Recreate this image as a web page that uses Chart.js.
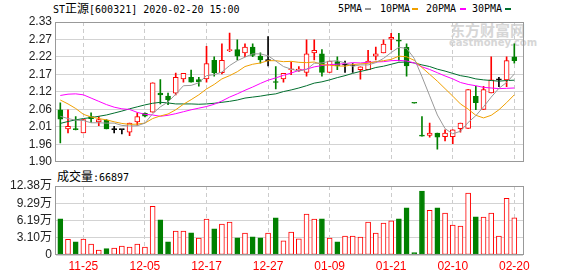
<!DOCTYPE html>
<html>
<head>
<meta charset="utf-8">
<script src="https://cdn.jsdelivr.net/npm/chart.js@4.4.1/dist/chart.umd.min.js"></script>
<style>
  body { margin: 0; background: #fff; }
  #wrap { position: relative; width: 578px; height: 276px; overflow: hidden; }
  .t { position: absolute; font-family: "DejaVu Sans Mono", monospace; font-size: 10px; line-height: 12px; white-space: nowrap; color: #000; }
  .cjk { font-family: "Noto Sans CJK SC"; font-size: 12px; }
  .dash { position: absolute; width: 6px; height: 2px; }
  .wm { position: absolute; color: #d6d6d6; font-weight: bold; white-space: nowrap; }
  canvas { position: absolute; left: 0; }
</style>
</head>
<body>
<div id="wrap">
  <div class="wm" style="left:450px;top:21px;font-family:'Noto Sans CJK SC';font-size:15px;line-height:18px;">东方财富网</div>
  <div class="wm" style="left:449px;top:37px;font-family:'DejaVu Sans';font-size:10px;line-height:12px;">eastmoney.com</div>

  <div class="t" style="left:53px;top:2px;">ST<span class="cjk">正源</span>[600321] 2020-02-20 15:00</div>

  <div class="t" style="left:338px;top:3px;">5PMA</div>
  <div class="dash" style="left:365px;top:8px;background:#999999;"></div>
  <div class="t" style="left:380px;top:3px;">10PMA</div>
  <div class="dash" style="left:412px;top:8px;background:#f0a000;"></div>
  <div class="t" style="left:426px;top:3px;">20PMA</div>
  <div class="dash" style="left:460px;top:8px;background:#ff00ff;"></div>
  <div class="t" style="left:472px;top:3px;">30PMA</div>
  <div class="dash" style="left:505px;top:8px;background:#006e2e;"></div>

  <div class="t" style="left:57px;top:170px;"><span class="cjk">成交量</span>:66897</div>

  <canvas id="price" width="578" height="173" style="top:0;"></canvas>
  <canvas id="volume" width="578" height="106" style="top:170px;"></canvas>
</div>
<script>
const dates = ['11-20', '11-21', '11-22', '11-25', '11-26', '11-27', '11-28', '11-29',
  '12-02', '12-03', '12-04', '12-05', '12-06', '12-09', '12-10', '12-11', '12-12', '12-13',
  '12-16', '12-17', '12-18', '12-19', '12-20', '12-23', '12-24', '12-25', '12-26', '12-27',
  '12-30', '12-31', '01-02', '01-03', '01-06', '01-07', '01-08', '01-09', '01-10',
  '01-13', '01-14', '01-15', '01-16', '01-17', '01-20', '01-21', '01-22', '01-23',
  '02-03', '02-04', '02-05', '02-06', '02-07', '02-10', '02-11', '02-12', '02-13', '02-14',
  '02-17', '02-18', '02-19', '02-20'];

const opens = [2.060, 2.001, 2.001, 1.989, 2.039, 2.023, 2.028, 1.999, 1.999, 1.991,
  2.023, 2.049, 2.053, 2.111, 2.102, 2.111, 2.155, 2.160, 2.153, 2.155,
  2.212, 2.174, 2.242, 2.245, 2.235, 2.253, 2.225, 2.211, 2.146, 2.155,
  2.183, 2.181, 2.175, 2.235, 2.232, 2.175, 2.208, 2.197, 2.195, 2.183,
  2.183, 2.225, 2.235, 2.277, 2.273, 2.252, 2.081, 1.980, 1.981, 1.988,
  1.977, 1.977, 2.002, 2.003, 2.101, 2.061, 2.112, 2.152, 2.152, 2.223];
const highs = [2.081, 2.060, 2.039, 2.030, 2.051, 2.039, 2.030, 2.009, 1.999, 2.019,
  2.051, 2.051, 2.143, 2.153, 2.111, 2.173, 2.172, 2.182, 2.160, 2.255,
  2.223, 2.263, 2.296, 2.275, 2.263, 2.263, 2.235, 2.285, 2.193, 2.172,
  2.207, 2.193, 2.275, 2.275, 2.245, 2.210, 2.223, 2.210, 2.202, 2.192,
  2.243, 2.253, 2.275, 2.295, 2.295, 2.263, 2.081, 2.039, 2.019, 1.988,
  1.998, 1.998, 2.019, 2.122, 2.132, 2.132, 2.223, 2.160, 2.223, 2.263];
const lows = [1.958, 1.989, 1.998, 1.989, 2.021, 2.011, 2.001, 1.989, 1.986, 1.980,
  2.013, 2.038, 2.053, 2.078, 2.076, 2.106, 2.145, 2.145, 2.133, 2.145,
  2.163, 2.170, 2.239, 2.213, 2.223, 2.223, 2.203, 2.195, 2.124, 2.145,
  2.168, 2.178, 2.163, 2.213, 2.163, 2.175, 2.183, 2.175, 2.175, 2.154,
  2.183, 2.213, 2.235, 2.245, 2.210, 2.163, 2.080, 1.979, 1.976, 1.939,
  1.964, 1.956, 1.991, 2.003, 2.060, 2.061, 2.112, 2.131, 2.131, 2.203];
const closes = [2.031, 2.009, 1.999, 2.030, 2.033, 2.030, 2.001, 1.999, 1.999, 2.019,
  2.039, 2.040, 2.143, 2.106, 2.091, 2.160, 2.172, 2.145, 2.146, 2.202,
  2.174, 2.212, 2.244, 2.225, 2.253, 2.227, 2.213, 2.211, 2.144, 2.172,
  2.185, 2.185, 2.232, 2.243, 2.175, 2.210, 2.195, 2.197, 2.195, 2.192,
  2.210, 2.232, 2.262, 2.283, 2.271, 2.195, 2.080, 1.979, 1.988, 1.976,
  1.988, 1.998, 2.019, 2.122, 2.082, 2.122, 2.152, 2.152, 2.211, 2.211];

const volumes = [64880, 27970, 23800, 28570, 19640, 8930, 11310, 12500, 16070, 14290,
  19640, 14290, 87490, 63090, 23800, 42850, 42850, 39880, 30350, 64280,
  47020, 55350, 58920, 30950, 39280, 32740, 30950, 39280, 66660, 25590,
  41070, 29170, 73210, 64280, 64880, 30350, 23810, 33930, 33930, 32140,
  58920, 39280, 57140, 61300, 64880, 84520, 4170, 114870, 80350, 84520,
  75000, 53570, 51780, 111300, 68450, 67850, 75000, 33930, 101780, 66897];

const ma5 = [2.040, 2.033, 2.028, 2.027, 2.020, 2.020, 2.019, 2.019, 2.012, 2.010,
  2.011, 2.019, 2.048, 2.069, 2.084, 2.108, 2.134, 2.135, 2.143, 2.165,
  2.168, 2.176, 2.196, 2.211, 2.222, 2.232, 2.232, 2.226, 2.210, 2.193,
  2.185, 2.179, 2.184, 2.203, 2.204, 2.209, 2.211, 2.204, 2.194, 2.198,
  2.198, 2.205, 2.218, 2.236, 2.252, 2.249, 2.218, 2.162, 2.103, 2.044,
  2.002, 1.986, 1.994, 2.021, 2.042, 2.069, 2.099, 2.126, 2.144, 2.170];
const ma10 = [2.090, 2.078, 2.064, 2.046, 2.038, 2.033, 2.029, 2.023, 2.018, 2.015,
  2.016, 2.019, 2.033, 2.041, 2.047, 2.060, 2.077, 2.091, 2.106, 2.124,
  2.138, 2.155, 2.165, 2.177, 2.193, 2.200, 2.204, 2.211, 2.211, 2.208,
  2.209, 2.206, 2.205, 2.207, 2.199, 2.197, 2.195, 2.194, 2.199, 2.201,
  2.203, 2.208, 2.211, 2.215, 2.225, 2.223, 2.212, 2.190, 2.169, 2.148,
  2.125, 2.102, 2.078, 2.062, 2.043, 2.035, 2.043, 2.060, 2.082, 2.106];
const ma20 = [2.104, 2.108, 2.109, 2.106, 2.096, 2.086, 2.076, 2.068, 2.063, 2.061,
  2.052, 2.046, 2.044, 2.040, 2.043, 2.048, 2.054, 2.060, 2.065, 2.070,
  2.077, 2.087, 2.099, 2.109, 2.120, 2.130, 2.141, 2.151, 2.158, 2.166,
  2.173, 2.181, 2.185, 2.192, 2.196, 2.199, 2.200, 2.202, 2.205, 2.204,
  2.206, 2.207, 2.208, 2.211, 2.212, 2.210, 2.204, 2.192, 2.184, 2.174,
  2.164, 2.155, 2.144, 2.138, 2.134, 2.129, 2.127, 2.125, 2.126, 2.127];
const ma30 = [2.018, 2.024, 2.029, 2.033, 2.036, 2.040, 2.044, 2.050, 2.056, 2.063,
  2.069, 2.075, 2.080, 2.083, 2.081, 2.078, 2.078, 2.078, 2.077, 2.078,
  2.080, 2.083, 2.086, 2.090, 2.096, 2.099, 2.102, 2.106, 2.109, 2.116,
  2.121, 2.127, 2.134, 2.142, 2.146, 2.152, 2.159, 2.165, 2.172, 2.178,
  2.183, 2.190, 2.194, 2.200, 2.206, 2.207, 2.204, 2.198, 2.193, 2.185,
  2.179, 2.172, 2.165, 2.161, 2.155, 2.152, 2.150, 2.148, 2.150, 2.151];

const priceTicks = ['1.90', '1.96', '2.01', '2.06', '2.12', '2.17', '2.22', '2.27', '2.33'];
const volTicks = ['0', '3.10万', '6.19万', '9.29万', '12.38万'];
const dateTicks = ['11-25', '12-05', '12-17', '12-27', '01-09', '01-21', '02-10', '02-20'];

const priceMin = 1.90, priceMax = 2.33, volMax = 123800;

const RED = '#ff0000', GREEN = '#008000', BLACK = '#000000';
const AXIS_FONT = "'Liberation Sans', 'Noto Sans CJK SC', sans-serif";
const tickIdx = dateTicks.map(d => dates.indexOf(d));

function candleColor(i) {
  if (closes[i] > opens[i]) return RED;
  if (closes[i] < opens[i]) return GREEN;
  return BLACK;
}
function volDown(i) {
  return closes[i] < opens[i] && (i === 0 || closes[i] < closes[i - 1]);
}

// grey box round each plot area
const frame = {
  id: 'frame',
  afterDraw(chart) {
    const { ctx, chartArea: a } = chart;
    ctx.save();
    ctx.strokeStyle = '#999';
    ctx.lineWidth = 1;
    ctx.strokeRect(Math.round(a.left) - 0.5, Math.round(a.top) + 0.5,
      Math.round(a.right - a.left) + 1, Math.round(a.bottom - a.top) - 1);
    ctx.restore();
  }
};

function xScale(showLabels, height) {
  return {
    type: 'linear',
    offset: false,
    min: -0.56,
    max: 60.13,
    afterBuildTicks: s => { s.ticks = tickIdx.map(v => ({ value: v })); },
    ticks: {
      display: showLabels,
      autoSkip: false,
      maxRotation: 0,
      padding: 4,
      color: RED,
      font: { family: AXIS_FONT, size: 12 },
      callback: v => dates[v]
    },
    grid: { color: '#cccccc', drawTicks: false, offset: false },
    border: { display: false, dash: [4, 3] },
    afterFit: s => { s.height = height; }
  };
}

function yScale(min, max, labels, width) {
  return {
    min: min,
    max: max,
    afterBuildTicks: s => {
      s.ticks = labels.map((t, k) => ({ value: min + k * (max - min) / (labels.length - 1) }));
    },
    ticks: {
      autoSkip: false,
      padding: 4,
      color: '#222',
      font: { family: AXIS_FONT, size: 12 },
      callback: (v, idx) => labels[idx]
    },
    grid: { color: '#d3d3d3', drawTicks: false },
    border: { display: false },
    afterFit: s => { s.width = width; }
  };
}

function maLine(values, color) {
  return {
    type: 'line',
    data: values.map((v, i) => ({ x: i, y: v })),
    borderColor: color,
    borderWidth: 1,
    pointRadius: 0,
    tension: 0,
    order: 0
  };
}

const common = {
  responsive: false,
  animation: false,
  devicePixelRatio: 1,
  events: [],
  plugins: { legend: { display: false }, tooltip: { enabled: false } }
};

new Chart(document.getElementById('price'), {
  type: 'bar',
  data: {
    datasets: [
      maLine(ma5, '#999999'),
      maLine(ma10, '#f0a000'),
      maLine(ma20, '#ff00ff'),
      maLine(ma30, '#006e2e'),
      {
        type: 'bar',
        data: opens.map((o, i) => ({ x: i, y: [o, closes[i]] })),
        backgroundColor: opens.map((o, i) => closes[i] > o ? '#ffffff' : candleColor(i)),
        borderColor: opens.map((o, i) => candleColor(i)),
        borderWidth: 1,
        borderSkipped: false,
        barThickness: 5,
        minBarLength: 1,
        grouped: false,
        order: 1
      },
      {
        type: 'bar',
        data: lows.map((l, i) => ({ x: i, y: [l, highs[i]] })),
        backgroundColor: lows.map((l, i) => candleColor(i)),
        borderWidth: 0,
        barThickness: 1,
        grouped: false,
        order: 2
      }
    ]
  },
  options: {
    ...common,
    layout: { padding: { top: 22, right: 55, left: 0, bottom: 0 } },
    scales: {
      x: xScale(false, 8),
      y: yScale(priceMin, priceMax, priceTicks, 56)
    }
  },
  plugins: [frame]
});

new Chart(document.getElementById('volume'), {
  type: 'bar',
  data: {
    datasets: [{
      data: volumes.map((v, i) => ({ x: i, y: v })),
      backgroundColor: volumes.map((v, i) => volDown(i) ? GREEN : '#ffffff'),
      borderColor: volumes.map((v, i) => volDown(i) ? GREEN : RED),
      borderWidth: 1,
      borderSkipped: false,
      barThickness: 5,
      grouped: false
    }]
  },
  options: {
    ...common,
    layout: { padding: { top: 16, right: 55, left: 0, bottom: 0 } },
    scales: {
      x: xScale(true, 21),
      y: yScale(0, volMax, volTicks, 56)
    }
  },
  plugins: [frame]
});
</script>
</body>
</html>
